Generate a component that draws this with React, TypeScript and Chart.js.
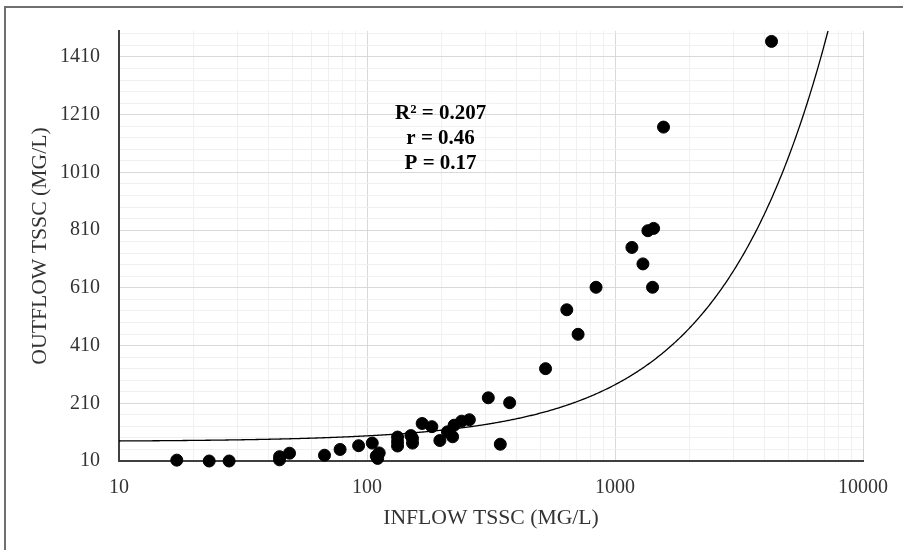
import React, { useEffect, useRef } from 'react';
import { Chart, registerables } from 'chart.js';

Chart.register(...registerables);

// ---- data ----
const inflowTssc = [
  17.1, 23.1, 27.8, 44.4, 44.4, 48.7, 67.4, 77.9, 92.5, 105,
  109, 110.4, 112, 132.8, 132.8, 132.8, 150.3, 152.6, 152.6, 166.9,
  182.6, 196.7, 211.1, 221.4, 224.5, 240.6, 258.7, 308.4, 344.7, 376,
  524.8, 709.8, 639.2, 838.6, 1417, 4277, 1569, 1431, 1357, 1170, 1296,
];
const outflowTssc = [
  13, 10, 10, 25, 14, 37, 30, 50, 63, 72,
  27, 19, 38, 93, 77, 62, 98, 72, 88, 140,
  129, 81, 111, 94, 134, 148, 153, 229, 68, 212,
  330, 449, 534, 612, 612, 1464, 1167, 816, 808, 750, 693,
];

// linear trend line shown in the reference (y = a + b·x)
const trendIntercept = 77.4;
const trendSlope = 0.1969;

const statsLabels = ['R² = 0.207', 'r = 0.46', 'P = 0.17'];
const statsAnchor = { x: 198, y: 1215 };

// axis ticks
const xDecades = [10, 100, 1000];
const xMinorMultipliers = [1, 2, 3, 4, 5, 6, 7, 8, 9];
const xLabelTicks = [10, 100, 1000, 10000];
const yMin = 10;
const yMax = 1500;
const yMinorStep = 40;
const yLabelTicks = [10, 210, 410, 610, 810, 1010, 1210, 1410];

const FONT = "'Liberation Serif', 'Times New Roman', serif";
const TEXT = '#333333';

const xTickValues: number[] = [];
xDecades.forEach((d) => xMinorMultipliers.forEach((m) => xTickValues.push(d * m)));
xTickValues.push(10000);
const yTickValues: number[] = [];
for (let v = yMin; v < yMax; v += yMinorStep) yTickValues.push(v);

const framePlugin = {
  id: 'frame',
  beforeDraw(chart: any) {
    const ctx = chart.ctx;
    ctx.save();
    ctx.fillStyle = '#ffffff';
    ctx.fillRect(0, 0, chart.width, chart.height);
    ctx.strokeStyle = '#6f6f6f';
    ctx.lineWidth = 2;
    ctx.beginPath();
    ctx.moveTo(5, chart.height + 5);
    ctx.lineTo(5, 7);
    ctx.lineTo(chart.width + 5, 7);
    ctx.stroke();
    ctx.restore();
  },
};

const trendPlugin = {
  id: 'trend',
  afterDatasetsDraw(chart: any) {
    const { ctx, chartArea } = chart;
    const xs = chart.scales.x;
    const ys = chart.scales.y;
    ctx.save();
    ctx.beginPath();
    ctx.rect(chartArea.left, chartArea.top, chartArea.right - chartArea.left, chartArea.bottom - chartArea.top);
    ctx.clip();
    ctx.beginPath();
    let first = true;
    for (let px = chartArea.left; px <= chartArea.right; px += 1) {
      const xv = xs.getValueForPixel(px);
      const yv = trendIntercept + trendSlope * xv;
      const py = ys.getPixelForValue(yv);
      if (first) { ctx.moveTo(px, py); first = false; } else ctx.lineTo(px, py);
    }
    ctx.strokeStyle = '#000000';
    ctx.lineWidth = 1.3;
    ctx.stroke();
    ctx.restore();

    // statistics text
    ctx.save();
    ctx.font = `bold 21px ${FONT}`;
    ctx.fillStyle = '#000000';
    ctx.textAlign = 'center';
    ctx.textBaseline = 'middle';
    const cx = xs.getPixelForValue(statsAnchor.x);
    const cy = ys.getPixelForValue(statsAnchor.y);
    statsLabels.forEach((t, i) => ctx.fillText(t, cx, cy + i * 25));
    ctx.restore();
  },
};

export default function App() {
  const ref = useRef<HTMLCanvasElement | null>(null);
  useEffect(() => {
    if (!ref.current) return;
    const chart = new Chart(ref.current, {
      type: 'scatter',
      data: {
        datasets: [
          {
            label: 'TSSC',
            data: inflowTssc.map((x, i) => ({ x, y: outflowTssc[i] })),
            backgroundColor: '#000000',
            borderColor: '#000000',
            borderWidth: 1,
            pointRadius: 6,
            clip: false as any,
          },
        ],
      },
      options: {
        responsive: false,
        animation: false,
        layout: { padding: { left: 0, right: 38, top: 28, bottom: 0 } },
        plugins: { legend: { display: false }, tooltip: { enabled: false } },
        scales: {
          x: {
            type: 'logarithmic',
            min: 10,
            max: 10000,
            afterBuildTicks: (s: any) => { s.ticks = xTickValues.map((v) => ({ value: v })); },
            afterFit: (s: any) => { s.height = 89; },
            ticks: {
              autoSkip: false,
              maxRotation: 0,
              padding: 15,
              color: TEXT,
              font: { family: FONT, size: 20 },
              callback: (v: any) => (xLabelTicks.includes(Number(v)) ? String(v) : ''),
            },
            grid: {
              drawTicks: false,
              color: (c: any) => (xLabelTicks.includes(c.tick?.value) ? '#d9d9d9' : '#f0f0f0'),
              lineWidth: 1,
            },
            border: { color: '#404040', width: 2 },
            title: {
              display: true,
              text: 'INFLOW TSSC (MG/L)',
              color: TEXT,
              font: { family: FONT, size: 21.7 },
              padding: { top: 0, bottom: 18.5 },
            },
          },
          y: {
            type: 'linear',
            min: yMin,
            max: yMax,
            afterBuildTicks: (s: any) => { s.ticks = yTickValues.map((v) => ({ value: v })); },
            afterFit: (s: any) => { s.width = 119; },
            ticks: {
              autoSkip: false,
              padding: 19,
              color: TEXT,
              font: { family: FONT, size: 20 },
              callback: (v: any) => (yLabelTicks.includes(Number(v)) ? String(v) : ''),
            },
            grid: {
              drawTicks: false,
              color: (c: any) => (yLabelTicks.includes(c.tick?.value) ? '#d9d9d9' : '#f0f0f0'),
              lineWidth: 1,
            },
            border: { color: '#404040', width: 2 },
            title: {
              display: true,
              text: 'OUTFLOW TSSC (MG/L)',
              color: TEXT,
              font: { family: FONT, size: 21.7 },
              padding: { top: 27.5, bottom: 0 },
            },
          },
        },
      },
      plugins: [framePlugin, trendPlugin],
    });
    return () => chart.destroy();
  }, []);
  return (
    <div style={{ position: 'absolute', left: 0, top: 0, width: 903, height: 550 }}>
      <canvas ref={ref} width={903} height={550} />
    </div>
  );
}
